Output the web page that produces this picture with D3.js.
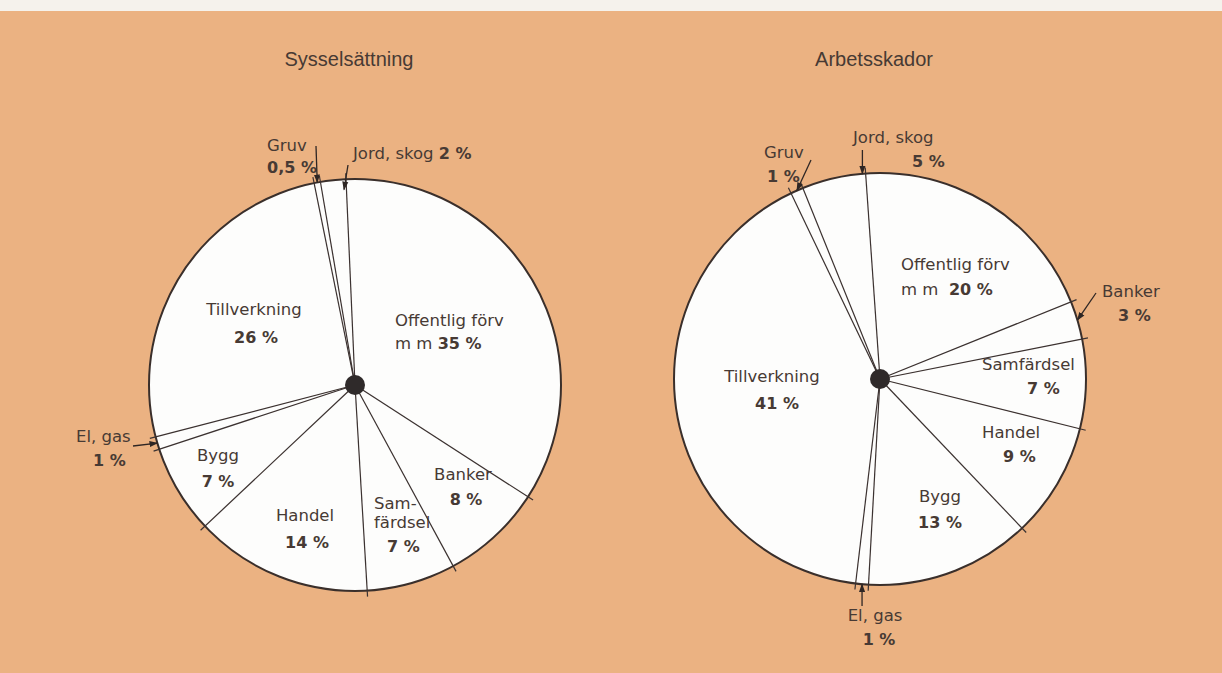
<!DOCTYPE html>
<html><head><meta charset="utf-8">
<script src="https://cdn.jsdelivr.net/npm/d3@7"></script>
<style>
body{margin:0;background:#ebb282;}
svg{display:block;}
</style></head>
<body><svg id="chart" width="1222" height="673"></svg>
<script>
// ---- data ----
const titles = ["Sysselsättning", "Arbetsskador"];
const sectors = ["Offentlig förv m m", "Banker", "Samfärdsel", "Handel", "Bygg", "El, gas", "Tillverkning", "Gruv", "Jord, skog"];
const employmentPct = [35, 8, 7, 14, 7, 1, 26, 0.5, 2];
const injuryPct = [20, 3, 7, 9, 13, 1, 41, 1, 5];
const employmentLabelLines = [["Offentlig förv", "m m {p}"], ["Banker", "{p}"], ["Sam-", "färdsel", "{p}"], ["Handel", "{p}"], ["Bygg", "{p}"], ["El, gas", "{p}"], ["Tillverkning", "{p}"], ["Gruv", "{p}"], ["Jord, skog {p}"]];
const injuryLabelLines = [["Offentlig förv", "m m  {p}"], ["Banker", "{p}"], ["Samfärdsel", "{p}"], ["Handel", "{p}"], ["Bygg", "{p}"], ["El, gas", "{p}"], ["Tillverkning", "{p}"], ["Gruv", "{p}"], ["Jord, skog", "{p}"]];

// ---- layout (positions relative to each pie centre) ----
const pies = [
  { title: titles[0], values: employmentPct, lines: employmentLabelLines,
    cx: 355, cy: 385, r: 206, startDeg: -2.5, titleDy: -319,
    labels: [
      {a: "start", p: [[40, -59], [40, -36]]},
      {a: "middle", p: [[108, 95], [111, 120]]},
      {a: "start", p: [[19, 124], [19, 143], [32, 167]]},
      {a: "middle", p: [[-50, 136], [-48, 163]]},
      {a: "middle", p: [[-137, 76], [-137, 102]]},
      {a: "start", p: [[-279, 57], [-262, 81]]},
      {a: "middle", p: [[-101, -70], [-99, -42]]},
      {a: "start", p: [[-88, -234], [-88, -212]]},
      {a: "start", p: [[-2, -226]]}
    ],
    arrows: [ {i: 5, from: [-222, 61], rk: 1.0, frac: 0.5},
              {i: 7, from: [-39, -239], rk: 1.0, frac: 0.5},
              {i: 8, from: [-7, -220], rk: 0.95, frac: 0.9} ]
  },
  { title: titles[1], values: injuryPct, lines: injuryLabelLines,
    cx: 880, cy: 379, r: 206, startDeg: -4, titleDy: -313,
    labels: [
      {a: "start", p: [[21, -109], [21, -84]]},
      {a: "start", p: [[222, -82], [238, -58]]},
      {a: "start", p: [[102, -9], [147, 15]]},
      {a: "start", p: [[102, 59], [123, 83]]},
      {a: "middle", p: [[60, 123], [60, 149]]},
      {a: "middle", p: [[-5, 242], [-1, 266]]},
      {a: "middle", p: [[-108, 3], [-103, 30]]},
      {a: "start", p: [[-116, -221], [-113, -197]]},
      {a: "start", p: [[-27, -236], [32, -212]]}
    ],
    arrows: [ {i: 1, from: [216, -86], rk: 1.0, frac: 0.5},
              {i: 5, from: [null, 227], rk: 1.0, frac: 0.5},
              {i: 7, from: [-69, -219], rk: 1.0, frac: 0.5},
              {i: 8, from: [null, -229], rk: 1.0, frac: 0.95} ]
  }
];

const ink = "#473a34";
const svg = d3.select("#chart");
svg.append("rect").attr("x", 0).attr("y", 0).attr("width", 1222).attr("height", 11).attr("fill", "#f5f2ec");

svg.append("defs").append("marker")
  .attr("id", "ah").attr("viewBox", "0 -4 10 8").attr("refX", 9).attr("refY", 0)
  .attr("markerWidth", 9).attr("markerHeight", 7).attr("markerUnits", "userSpaceOnUse").attr("orient", "auto")
  .append("path").attr("d", "M0,-3.5L10,0L0,3.5Z").attr("fill", "#2e2624");

const fmtPct = v => String(v).replace(".", ",") + " %";

pies.forEach(P => {
  const g = svg.append("g").attr("transform", `translate(${P.cx},${P.cy})`);
  const s0 = P.startDeg * Math.PI / 180;
  const arcs = d3.pie().sort(null).value(d => d).startAngle(s0).endAngle(s0 + 2 * Math.PI)(P.values);
  const arc = d3.arc().innerRadius(0).outerRadius(P.r);

  // title
  g.append("text").attr("x", -6).attr("y", P.titleDy).attr("text-anchor", "middle")
    .attr("font-family", "Liberation Sans, Arial, sans-serif").attr("font-size", 20).attr("fill", ink)
    .text(P.title);

  // slices (white fill)
  g.selectAll("path.slice").data(arcs).join("path").attr("class", "slice")
    .attr("d", arc).attr("fill", "#fdfdfc").attr("stroke", "none");

  // outline
  g.append("circle").attr("r", P.r).attr("fill", "none").attr("stroke", "#3a2f2b").attr("stroke-width", 2);

  // radial boundaries extending slightly beyond the rim
  g.selectAll("line.bound").data(arcs).join("line").attr("class", "bound")
    .attr("x1", 0).attr("y1", 0)
    .attr("x2", d => Math.sin(d.startAngle) * (P.r + 6))
    .attr("y2", d => -Math.cos(d.startAngle) * (P.r + 6))
    .attr("stroke", "#3b3231").attr("stroke-width", 1.2);

  // centre dot
  g.append("circle").attr("r", 10).attr("fill", "#2f2a2a");

  // labels
  arcs.forEach((d, i) => {
    const L = P.labels[i];
    const pct = fmtPct(P.values[i]);
    P.lines[i].forEach((line, k) => {
      const t = g.append("text").attr("x", L.p[k][0]).attr("y", L.p[k][1])
        .attr("text-anchor", L.a).attr("font-family", "DejaVu Sans, Verdana, sans-serif")
        .attr("font-size", 16.5).attr("fill", ink);
      const parts = line.split("{p}");
      parts.forEach((txt, j) => {
        if (txt.length) t.append("tspan").attr("xml:space", "preserve").text(txt);
        if (j < parts.length - 1) t.append("tspan").attr("font-weight", "bold").attr("font-size", 16).text(pct);
      });
    });
  });

  // leader arrows pointing at the small slices
  P.arrows.forEach(A => {
    const d = arcs[A.i];
    const m = d.startAngle + (d.endAngle - d.startAngle) * A.frac;
    const tx = Math.sin(m) * P.r * A.rk, ty = -Math.cos(m) * P.r * A.rk;
    const fx = A.from[0] === null ? tx : A.from[0];
    g.append("line").attr("x1", fx).attr("y1", A.from[1])
      .attr("x2", tx).attr("y2", ty)
      .attr("stroke", "#2e2624").attr("stroke-width", 1.3).attr("marker-end", "url(#ah)");
  });
});
</script>
</body></html>
